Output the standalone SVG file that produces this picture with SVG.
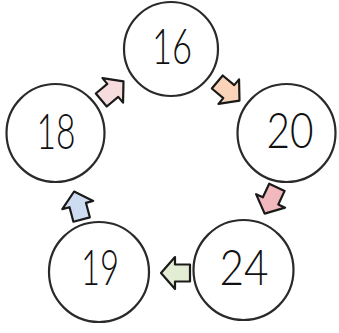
<svg xmlns="http://www.w3.org/2000/svg" width="339" height="333" viewBox="0 0 339 333">
<defs>
<style>
.node circle{fill:#fff;stroke:#2a2a2a;stroke-width:2.2}
.node text{font-family:"Lato","Liberation Sans",sans-serif;font-weight:300;font-size:49px;fill:#111;text-anchor:middle}
.arr{stroke:#1a1a1a;stroke-width:2.2;stroke-linejoin:round}
</style>
<path id="arrow" d="M15,0 L1,-16 L1,-8.5 L-14,-8.5 L-14,8.5 L1,8.5 L1,16 Z"/>
</defs>
<rect width="339" height="333" fill="#fff"/>
<g id="connectors">
<use href="#arrow" class="arr" fill="#fbd3b8" transform="translate(228,91) rotate(40)"/>
<use href="#arrow" class="arr" fill="#f1b9bd" transform="translate(271,200) rotate(115)"/>
<use href="#arrow" class="arr" fill="#e3edd3" transform="translate(176,273) rotate(180)"/>
<use href="#arrow" class="arr" fill="#cddcf0" transform="translate(78,206) rotate(-105)"/>
<use href="#arrow" class="arr" fill="#f6dcdc" transform="translate(112,91) rotate(-40)"/>
</g>
<g id="n16" class="node"><circle cx="171" cy="49" r="47"/><text x="172" y="64" textLength="40" lengthAdjust="spacingAndGlyphs">16</text></g>
<g id="n20" class="node"><circle cx="286.5" cy="133" r="49"/><text x="290" y="148" textLength="47" lengthAdjust="spacingAndGlyphs">20</text></g>
<g id="n24" class="node"><circle cx="243.5" cy="270" r="50"/><text x="244" y="285" textLength="49" lengthAdjust="spacingAndGlyphs">24</text></g>
<g id="n19" class="node"><circle cx="99" cy="272" r="50"/><text x="100" y="285" textLength="38" lengthAdjust="spacingAndGlyphs">19</text></g>
<g id="n18" class="node"><circle cx="55.5" cy="133" r="49"/><text x="56" y="149" textLength="39" lengthAdjust="spacingAndGlyphs">18</text></g>
</svg>
